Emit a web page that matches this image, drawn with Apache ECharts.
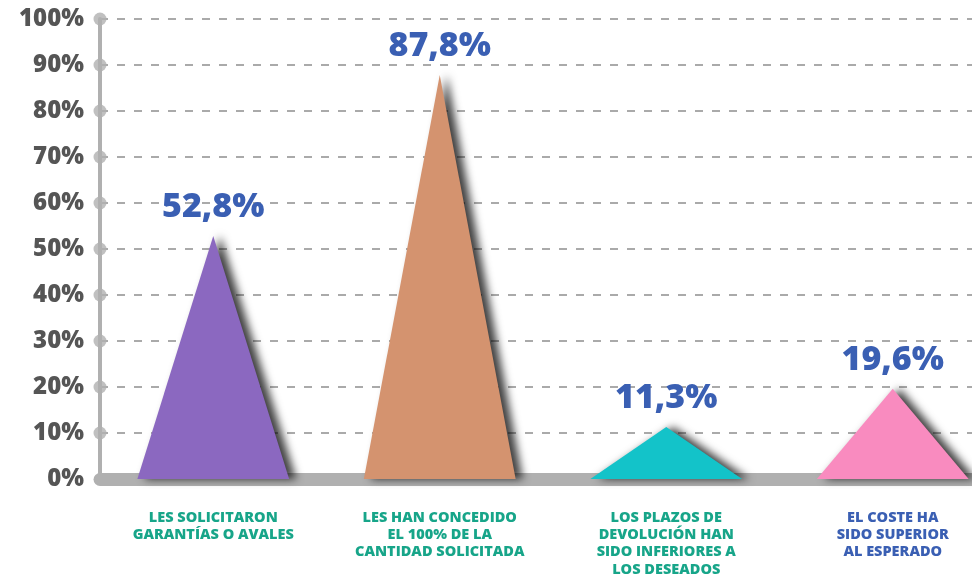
<!DOCTYPE html>
<html>
<head>
<meta charset="utf-8">
<script src="https://cdn.jsdelivr.net/npm/echarts@6/dist/echarts.min.js"></script>
<style>
  html, body { margin: 0; padding: 0; background: #fff; overflow: hidden; }
  #main { width: 1006px; height: 580px; }
</style>
</head>
<body>
<div id="main"></div>
<script>
// datos del gráfico
var categories = [
  'LES SOLICITARON\nGARANTÍAS O AVALES',
  'LES HAN CONCEDIDO\nEL 100% DE LA\nCANTIDAD SOLICITADA',
  'LOS PLAZOS DE\nDEVOLUCIÓN HAN\nSIDO INFERIORES A\nLOS DESEADOS',
  'EL COSTE HA\nSIDO SUPERIOR\nAL ESPERADO'
]
var values = [52.8, 87.8, 11.3, 19.6]
var colors = ['#8b68c0', '#d4936f', '#13c3c9', '#f98bbf']
var labelColors = ['#17a589', '#17a589', '#17a589', '#3a5fb3']
var yTicks = [10, 20, 30, 40, 50, 60, 70, 80, 90, 100]

var chart = echarts.init(document.getElementById('main'))

var option = {
  animation: false,
  grid: { left: 100, right: 0, top: 19, bottom: 101 },
  xAxis: [{
    type: 'category',
    data: categories,
    offset: 5,
    axisLine: { lineStyle: { color: '#b0b0b0', width: 13 } },
    axisTick: { show: false },
    axisLabel: {
      interval: 0,
      margin: 25,
      fontFamily: 'Open Sans',
      fontWeight: 800,
      fontSize: 14.5,
      lineHeight: 17.3,
      verticalAlign: 'top',
      color: function (v, i) { return labelColors[i] }
    }
  }, {
    type: 'value', min: 0, max: 1, show: false
  }],
  yAxis: {
    type: 'value',
    min: 0,
    max: 100,
    interval: 10,
    axisLine: { show: true, lineStyle: { color: '#b0b0b0', width: 4 } },
    axisTick: { show: false },
    axisLabel: {
      formatter: '{value}%',
      margin: 16,
      fontFamily: 'Open Sans',
      fontWeight: 800,
      fontSize: 24,
      color: '#555'
    },
    splitLine: { lineStyle: { color: '#aaa', width: 2, type: [8, 9] } }
  },
  series: [{
    type: 'pictorialBar',
    symbol: 'triangle',
    barWidth: '67%',
    symbolSize: ['100%', '100%'],
    data: values.map(function (v, i) {
      return {
        value: v,
        itemStyle: {
          color: colors[i],
          shadowColor: 'rgba(0,0,0,0.75)',
          shadowBlur: 9,
          shadowOffsetX: 7,
          shadowOffsetY: 0
        }
      }
    }),
    label: {
      show: true,
      position: 'top',
      distance: 12,
      formatter: function (p) { return String(p.value).replace('.', ',') + '%' },
      fontFamily: 'Open Sans',
      fontWeight: 800,
      fontSize: 34,
      color: '#3a5fb3'
    },
    z: 3
  }, {
    type: 'scatter',
    xAxisIndex: 1,
    symbol: 'circle',
    symbolSize: 13,
    clip: false,
    silent: true,
    itemStyle: { color: '#b0b0b0' },
    data: yTicks.map(function (t) { return [0, t] }),
    z: 4
  }]
}

chart.setOption(option)
</script>
</body>
</html>
